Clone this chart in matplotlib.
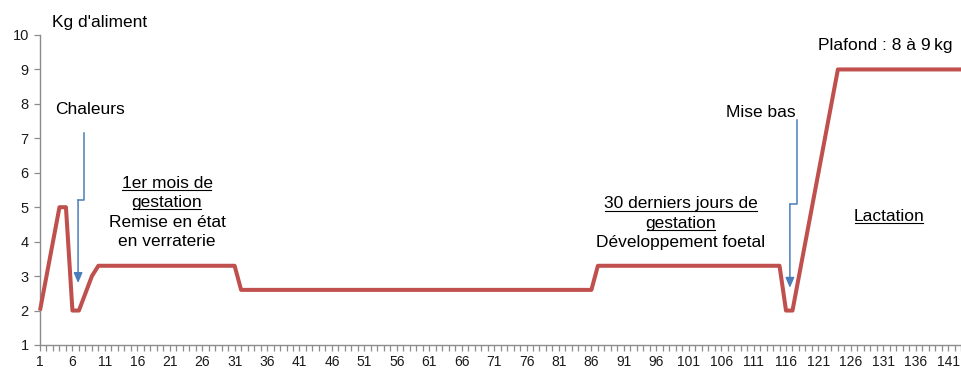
import matplotlib
matplotlib.use('Agg')
import matplotlib.pyplot as plt
from matplotlib.lines import Line2D
from matplotlib.patches import FancyArrowPatch

plt.rcParams['font.family'] = ['Liberation Sans', 'DejaVu Sans']

# ---- data ----
days = list(range(1, 144))
feed = [
    2, 3, 4, 5, 5, 2, 2, 2.5, 3, 3.3,                        # 1-10
    3.3, 3.3, 3.3, 3.3, 3.3, 3.3, 3.3, 3.3, 3.3, 3.3,        # 11-20
    3.3, 3.3, 3.3, 3.3, 3.3, 3.3, 3.3, 3.3, 3.3, 3.3,        # 21-30
    3.3, 2.6, 2.6, 2.6, 2.6, 2.6, 2.6, 2.6, 2.6, 2.6,        # 31-40
    2.6, 2.6, 2.6, 2.6, 2.6, 2.6, 2.6, 2.6, 2.6, 2.6,        # 41-50
    2.6, 2.6, 2.6, 2.6, 2.6, 2.6, 2.6, 2.6, 2.6, 2.6,        # 51-60
    2.6, 2.6, 2.6, 2.6, 2.6, 2.6, 2.6, 2.6, 2.6, 2.6,        # 61-70
    2.6, 2.6, 2.6, 2.6, 2.6, 2.6, 2.6, 2.6, 2.6, 2.6,        # 71-80
    2.6, 2.6, 2.6, 2.6, 2.6, 2.6, 3.3, 3.3, 3.3, 3.3,        # 81-90
    3.3, 3.3, 3.3, 3.3, 3.3, 3.3, 3.3, 3.3, 3.3, 3.3,        # 91-100
    3.3, 3.3, 3.3, 3.3, 3.3, 3.3, 3.3, 3.3, 3.3, 3.3,        # 101-110
    3.3, 3.3, 3.3, 3.3, 3.3, 2, 2, 3, 4, 5,                  # 111-120
    6, 7, 8, 9, 9, 9, 9, 9, 9, 9,                            # 121-130
    9, 9, 9, 9, 9, 9, 9, 9, 9, 9,                            # 131-140
    9, 9, 9,                                                 # 141-143
]
x_tick_labels = [str(d) for d in range(1, 142, 5)]
y_ticks = [1, 2, 3, 4, 5, 6, 7, 8, 9, 10]
y_label = "Kg d'aliment"

# ---- figure ----
W, H = 962, 368
fig = plt.figure(figsize=(W / 100, H / 100), dpi=100)
ax = fig.add_axes([40 / W, 1 - 345 / H, 922 / W, 310 / H])

ax.plot(days, feed, color='#c0504d', lw=2.9, solid_joinstyle='round',
        solid_capstyle='butt', clip_on=False, zorder=3)

ax.set_xlim(1, 1 + 922 / 6.487)
ax.set_ylim(1, 10)
ax.set_xticks([int(s) for s in x_tick_labels])
ax.set_xticklabels(x_tick_labels)
ax.set_xticks(days, minor=True)
ax.set_yticks(y_ticks)

for side in ('top', 'right'):
    ax.spines[side].set_visible(False)
for side in ('left', 'bottom'):
    ax.spines[side].set_color('#8c8c8c')
    ax.spines[side].set_linewidth(1.0)

ax.tick_params(axis='x', which='both', direction='out', length=4.3, width=0.9,
               color='#8c8c8c', labelsize=10, pad=3.0, labelcolor='#1a1a1a')
ax.tick_params(axis='y', which='major', direction='out', length=4.3, width=0.9,
               color='#8c8c8c', labelsize=10.5, pad=3.8, labelcolor='#1a1a1a')

# ---- arrows (annotation callouts) ----
arrow_col = '#4a7ebb'
def callout(x_top, y_top, y_step, x_low, y_tip):
    ax.plot([x_top, x_top, x_low], [y_top, y_step, y_step],
            color=arrow_col, lw=1.1, clip_on=False, zorder=4)
    ax.add_patch(FancyArrowPatch((x_low, y_step), (x_low, y_tip),
                                 arrowstyle='-|>,head_length=0.6,head_width=0.26',
                                 mutation_scale=10, color=arrow_col, lw=1.1,
                                 shrinkA=0, shrinkB=0, zorder=4))

callout(7.83, 7.16, 5.21, 6.87, 2.80)
callout(117.65, 7.53, 5.09, 116.6, 2.66)

# ---- texts ----
texts = []
def ftext(px, py, s, ha='center', underline=False, size=12.5):
    t = fig.text(px / W, 1 - py / H, s, ha=ha, va='baseline',
                 fontsize=size, color='#000000')
    texts.append((t, py, underline))
    return t

ftext(52.3, 27.3, y_label, ha='left')
ftext(55, 114.3, 'Chaleurs', ha='left')
ftext(167, 187.5, '1er mois de', underline=True)
ftext(167, 207, 'gestation', underline=True)
ftext(167, 226.7, 'Remise en état')
ftext(167, 246, 'en verraterie')
ftext(681, 208.3, '30 derniers jours de', underline=True)
ftext(681, 227.6, 'gestation', underline=True)
ftext(681, 246.7, 'Développement foetal')
ftext(889, 221, 'Lactation', underline=True)
ftext(761, 116.7, 'Mise bas')
ftext(885.5, 49.7, 'Plafond : 8 à 9\u2009kg')

fig.canvas.draw()
renderer = fig.canvas.get_renderer()
for t, py, ul in texts:
    if not ul:
        continue
    bb = t.get_window_extent(renderer)
    yy = (H - (py + 2.4)) / H
    fig.add_artist(Line2D([bb.x0 / W + 1 / W, bb.x1 / W - 1 / W], [yy, yy],
                          transform=fig.transFigure, lw=0.8, color='#000000'))

fig.savefig('out.png', dpi=100)
